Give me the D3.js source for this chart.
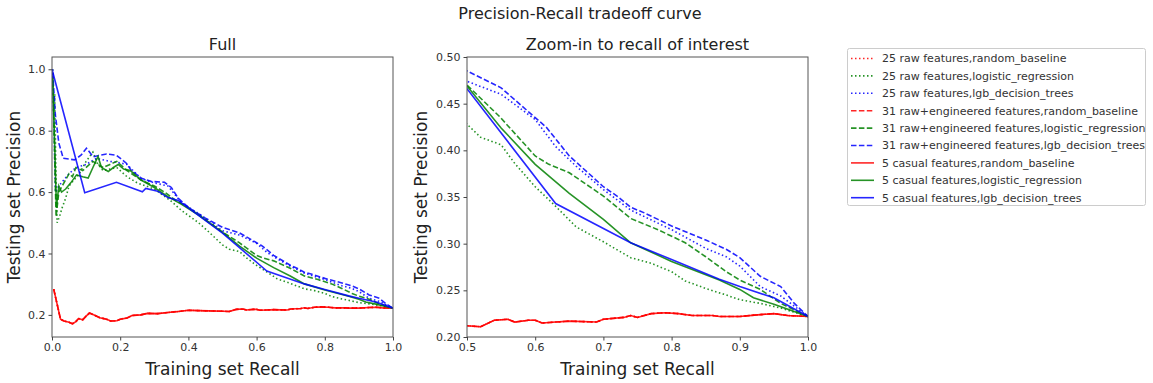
<!DOCTYPE html>
<html>
<head>
<meta charset="utf-8">
<script src="https://cdn.jsdelivr.net/npm/d3@7"></script>
<style>
  body { margin: 0; background: #fff; }
  text { font-family: "DejaVu Sans", sans-serif; }
</style>
</head>
<body>
<script>

// precision-recall points, [recall, precision]
var randomBaseline = [
    [0.005,0.284],[0.015,0.235],[0.025,0.186],[0.035,0.18],[0.05,0.176],[0.06,0.171],[0.07,0.178],
    [0.078,0.188],[0.09,0.184],[0.1,0.196],[0.11,0.206],[0.125,0.199],[0.14,0.191],[0.16,0.186],
    [0.172,0.18],[0.19,0.181],[0.2,0.186],[0.22,0.19],[0.235,0.198],[0.26,0.2],[0.28,0.205],
    [0.31,0.204],[0.34,0.208],[0.37,0.211],[0.4,0.215],[0.43,0.214],[0.46,0.213],[0.5,0.212],
    [0.52,0.211],[0.54,0.218],[0.56,0.219],[0.57,0.216],[0.59,0.218],[0.6,0.218],[0.61,0.215],
    [0.63,0.216],[0.65,0.217],[0.69,0.216],[0.7,0.219],[0.73,0.221],[0.74,0.223],[0.75,0.221],
    [0.77,0.225],[0.79,0.226],[0.81,0.225],[0.83,0.223],[0.86,0.223],[0.87,0.222],[0.9,0.222],
    [0.93,0.224],[0.95,0.225],[0.97,0.223],[1.0,0.222]
];

var raw25Logistic = [
    [0.002,1.0],[0.005,0.85],[0.008,0.92],[0.011,0.7],[0.015,0.5],[0.022,0.52],[0.03,0.55],
    [0.04,0.58],[0.05,0.62],[0.065,0.64],[0.08,0.66],[0.1,0.7],[0.12,0.73],[0.135,0.69],
    [0.15,0.67],[0.17,0.675],[0.19,0.68],[0.22,0.65],[0.25,0.63],[0.3,0.61],[0.35,0.57],
    [0.38,0.54],[0.43,0.5],[0.46,0.47],[0.5,0.428],[0.52,0.414],[0.55,0.406],[0.57,0.386],
    [0.6,0.361],[0.63,0.34],[0.66,0.318],[0.7,0.302],[0.74,0.285],[0.77,0.279],[0.8,0.27],
    [0.82,0.26],[0.85,0.252],[0.88,0.245],[0.9,0.24],[0.93,0.236],[0.96,0.231],[1.0,0.222]
];

var raw25Lgb = [
    [0.002,1.0],[0.006,0.8],[0.01,0.6],[0.02,0.62],[0.035,0.64],[0.05,0.66],[0.07,0.68],
    [0.1,0.69],[0.13,0.71],[0.17,0.7],[0.2,0.695],[0.22,0.69],[0.26,0.645],[0.3,0.63],
    [0.34,0.62],[0.38,0.565],[0.43,0.53],[0.5,0.474],[0.55,0.46],[0.6,0.433],[0.63,0.404],
    [0.66,0.383],[0.7,0.358],[0.74,0.336],[0.78,0.322],[0.8,0.315],[0.85,0.295],[0.88,0.286],
    [0.9,0.276],[0.93,0.254],[0.96,0.244],[1.0,0.222]
];

var eng31Logistic = [
    [0.002,0.98],[0.006,0.8],[0.012,0.52],[0.02,0.6],[0.03,0.62],[0.04,0.64],[0.05,0.66],
    [0.06,0.65],[0.07,0.68],[0.09,0.67],[0.11,0.69],[0.12,0.7],[0.15,0.68],[0.17,0.69],
    [0.19,0.7],[0.22,0.67],[0.26,0.64],[0.3,0.62],[0.33,0.6],[0.36,0.575],[0.4,0.55],
    [0.45,0.51],[0.5,0.47],[0.548,0.436],[0.6,0.394],[0.62,0.385],[0.65,0.376],[0.7,0.351],
    [0.74,0.327],[0.78,0.315],[0.82,0.301],[0.85,0.286],[0.88,0.27],[0.9,0.261],[0.93,0.251],
    [0.96,0.236],[1.0,0.222]
];

var eng31Lgb = [
    [0.002,0.99],[0.01,0.85],[0.02,0.76],[0.033,0.71],[0.066,0.705],[0.085,0.72],[0.101,0.743],
    [0.121,0.715],[0.14,0.72],[0.16,0.724],[0.189,0.72],[0.218,0.694],[0.233,0.67],[0.262,0.645],
    [0.29,0.635],[0.33,0.632],[0.35,0.615],[0.37,0.58],[0.4,0.55],[0.45,0.515],[0.5,0.485],
    [0.55,0.467],[0.6,0.435],[0.616,0.425],[0.65,0.394],[0.7,0.361],[0.72,0.351],[0.74,0.339],
    [0.76,0.333],[0.78,0.326],[0.8,0.319],[0.85,0.304],[0.88,0.294],[0.9,0.285],[0.93,0.265],
    [0.96,0.254],[0.98,0.236],[1.0,0.222]
];

var casual5Logistic = [
    [0.002,0.97],[0.008,0.75],[0.013,0.55],[0.02,0.62],[0.028,0.6],[0.04,0.61],[0.055,0.63],
    [0.072,0.656],[0.09,0.65],[0.106,0.646],[0.12,0.68],[0.135,0.716],[0.145,0.68],[0.165,0.667],
    [0.18,0.68],[0.194,0.69],[0.21,0.675],[0.23,0.67],[0.26,0.64],[0.3,0.615],[0.34,0.585],
    [0.38,0.56],[0.43,0.525],[0.5,0.469],[0.55,0.424],[0.6,0.385],[0.65,0.354],[0.7,0.326],
    [0.74,0.301],[0.8,0.281],[0.87,0.261],[0.9,0.251],[0.92,0.242],[0.95,0.235],[1.0,0.222]
];

var casual5Lgb = [
    [0.0,1.0],[0.096,0.598],[0.189,0.632],[0.265,0.601],[0.275,0.612],[0.31,0.603],[0.34,0.582],
    [0.37,0.573],[0.5,0.466],[0.63,0.343],[0.74,0.301],[0.8,0.283],[0.87,0.262],[0.9,0.254],
    [0.95,0.242],[1.0,0.222]
];

var featureSets = ["25 raw features", "31 raw+engineered features", "5 casual features"];
var models = ["random_baseline", "logistic_regression", "lgb_decision_trees"];
var seriesData = [
    [randomBaseline, raw25Logistic, raw25Lgb],
    [randomBaseline, eng31Logistic, eng31Lgb],
    [randomBaseline, casual5Logistic, casual5Lgb]
];
var modelColors = ["#ff0000", "#008000", "#0000ff"];
var setDashes = ["1.5,2.5", "5.5,2.4", null];

var fullXTicks = [0, 0.2, 0.4, 0.6, 0.8, 1.0];
var fullYTicks = [0.2, 0.4, 0.6, 0.8, 1.0];
var zoomXTicks = [0.5, 0.6, 0.7, 0.8, 0.9, 1.0];
var zoomYTicks = [0.20, 0.25, 0.30, 0.35, 0.40, 0.45, 0.50];

var W = 1153, H = 383;

var svg = d3.select("body").append("svg")
    .attr("width", W)
    .attr("height", H);

svg.append("text")
    .attr("x", 580)
    .attr("y", 19)
    .attr("text-anchor", "middle")
    .style("font-size", "16px")
    .attr("fill", "#222")
    .text("Precision-Recall tradeoff curve");

var series = [];
for (var s = 0; s < featureSets.length; s++) {
    for (var m = 0; m < models.length; m++) {
        series.push({
            name: featureSets[s] + "," + models[m],
            data: seriesData[s][m],
            color: modelColors[m],
            dash: setDashes[s]
        });
    }
}

function drawPanel(opt) {
    var g = svg.append("g");
    var x = d3.scaleLinear().domain(opt.xDomain).range([opt.left, opt.right]);
    var y = d3.scaleLinear().domain(opt.yDomain).range([opt.bottom, opt.top]);

    g.append("clipPath").attr("id", opt.id)
        .append("rect")
        .attr("x", opt.left).attr("y", opt.top)
        .attr("width", opt.right - opt.left)
        .attr("height", opt.bottom - opt.top);

    var line = d3.line()
        .x(function(d) { return x(d[0]); })
        .y(function(d) { return y(d[1]); });

    g.append("g")
        .attr("clip-path", "url(#" + opt.id + ")")
        .selectAll("path")
        .data(series)
        .enter()
        .append("path")
        .attr("d", function(d) { return line(d.data); })
        .attr("fill", "none")
        .attr("stroke", function(d) { return d.color; })
        .attr("stroke-opacity", 0.85)
        .attr("stroke-width", 1.6)
        .attr("stroke-dasharray", function(d) { return d.dash; });

    // frame
    g.append("rect")
        .attr("x", opt.left).attr("y", opt.top)
        .attr("width", opt.right - opt.left)
        .attr("height", opt.bottom - opt.top)
        .attr("fill", "none")
        .attr("stroke", "#555")
        .attr("stroke-width", 1);

    var xAxis = g.append("g")
        .attr("transform", "translate(0," + opt.bottom + ")")
        .call(d3.axisBottom(x).tickValues(opt.xTicks).tickFormat(d3.format(".1f"))
            .tickSizeInner(3.5).tickSizeOuter(0).tickPadding(3));
    var yAxis = g.append("g")
        .attr("transform", "translate(" + opt.left + ",0)")
        .call(d3.axisLeft(y).tickValues(opt.yTicks).tickFormat(d3.format(opt.yFormat))
            .tickSizeInner(3.5).tickSizeOuter(0).tickPadding(3));

    [xAxis, yAxis].forEach(function(a) {
        a.select(".domain").remove();
        a.selectAll("line").attr("stroke", "#444");
        a.selectAll("text")
            .style("font-size", "11px")
            .attr("fill", "#333");
    });

    g.append("text")
        .attr("x", (opt.left + opt.right) / 2)
        .attr("y", opt.top - 7)
        .attr("text-anchor", "middle")
        .style("font-size", "16px")
        .attr("fill", "#222")
        .text(opt.title);

    g.append("text")
        .attr("x", (opt.left + opt.right) / 2)
        .attr("y", 375)
        .attr("text-anchor", "middle")
        .style("font-size", "17px")
        .attr("fill", "#222")
        .text("Training set Recall");

    g.append("text")
        .attr("transform", "translate(" + opt.yLabelX + "," + (opt.top + opt.bottom) / 2 + ") rotate(-90)")
        .attr("text-anchor", "middle")
        .style("font-size", "17px")
        .attr("fill", "#222")
        .text("Testing set Precision");
}

drawPanel({
    id: "clipFull", title: "Full",
    left: 52, right: 393, top: 57, bottom: 337,
    xDomain: [0, 1], yDomain: [0.128, 1.04],
    xTicks: fullXTicks, yTicks: fullYTicks, yFormat: ".1f",
    yLabelX: 20
});

drawPanel({
    id: "clipZoom", title: "Zoom-in to recall of interest",
    left: 467, right: 808, top: 57, bottom: 337,
    xDomain: [0.5, 1], yDomain: [0.2, 0.5],
    xTicks: zoomXTicks, yTicks: zoomYTicks, yFormat: ".2f",
    yLabelX: 427
});

// legend
var legend = svg.append("g");
legend.append("rect")
    .attr("x", 847.5).attr("y", 48.5)
    .attr("width", 298).attr("height", 157)
    .attr("rx", 2)
    .attr("fill", "#fff")
    .attr("stroke", "#ccc");

var items = legend.selectAll("g.item")
    .data(series)
    .enter()
    .append("g")
    .attr("class", "item")
    .attr("transform", function(d, i) { return "translate(0," + (58.5 + i * 17.4) + ")"; });

items.append("line")
    .attr("x1", 851).attr("x2", 874)
    .attr("stroke", function(d) { return d.color; })
    .attr("stroke-opacity", 0.85)
    .attr("stroke-width", 1.6)
    .attr("stroke-dasharray", function(d) { return d.dash; });

items.append("text")
    .attr("x", 882)
    .attr("dy", "0.35em")
    .style("font-size", "11px")
    .attr("fill", "#333")
    .text(function(d) { return d.name; });

</script>
</body>
</html>
